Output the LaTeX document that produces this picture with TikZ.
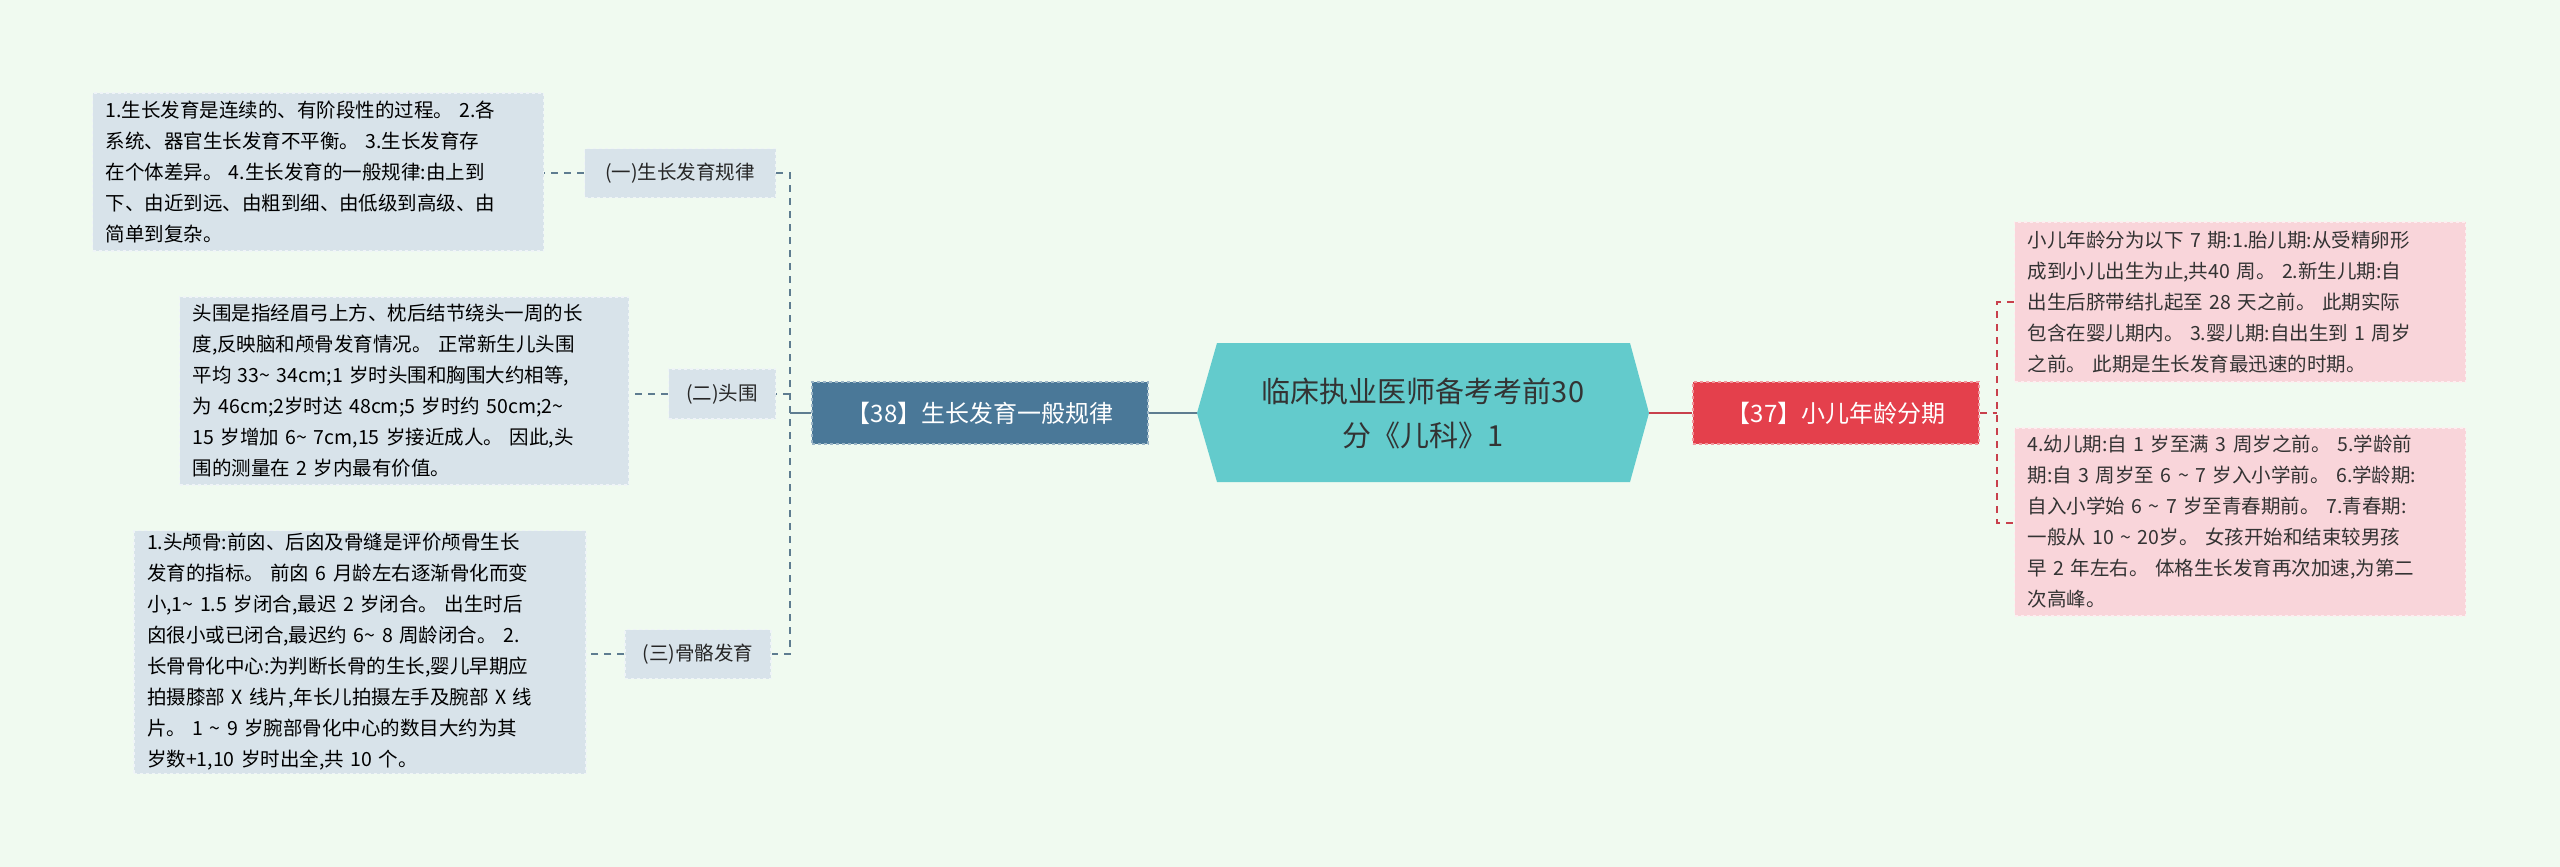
\documentclass[tikz,border=0pt]{standalone}
\usepackage{fontspec}
\setmainfont{Noto Sans CJK SC}
\begin{document}
\begin{tikzpicture}[x=1pt,y=-1pt,
  leafb/.style={fill=#1, draw=white!60!#1, dashed, line width=1.2pt, inner sep=0pt, align=left, font=\fontsize{19.5}{31}\selectfont},
  subb/.style={fill=leafblue, draw=white!60!leafblue, dashed, line width=1.2pt, inner sep=0pt, font=\fontsize{19.5}{24}\selectfont, text=black!85},
  lconn/.style={draw=lline, dashed, line width=1.6pt, dash pattern=on 7pt off 6pt},
  rconn/.style={draw=rline, dashed, line width=1.6pt, dash pattern=on 7pt off 6pt}]
\definecolor{bg}{HTML}{F0FAF0}
\definecolor{leafblue}{HTML}{D8E3EA}
\definecolor{leafpink}{HTML}{F9D5DA}
\definecolor{teal}{HTML}{63CBCC}
\definecolor{mainblue}{HTML}{4A7898}
\definecolor{mainred}{HTML}{E4404C}
\definecolor{lline}{HTML}{5E7C90}
\definecolor{rline}{HTML}{C8404C}
\useasboundingbox (0,0) rectangle (2560,867);
\fill[bg] (0,0) rectangle (2560,867);
% center
\coordinate (c1) at (1217,343); \coordinate (c2) at (1630,343); \coordinate (c3) at (1649,413);
\coordinate (c4) at (1630,482); \coordinate (c5) at (1217,482); \coordinate (c6) at (1197,413);
\fill[teal] (c1)--(c2)--(c3)--(c4)--(c5)--(c6)--cycle;
\node[align=center, font=\fontsize{29}{44}\selectfont, text=black!80] (center) at (1423,413) {临床执业医师备考考前30\\分《儿科》1};
\coordinate (cl) at (1197,413); \coordinate (cr) at (1649,413);
% main nodes
\node[fill=mainblue, draw=white!45!mainblue, dashed, line width=1.2pt, minimum width=336pt, minimum height=62pt, text=white, font=\fontsize{24}{28}\selectfont] (lm) at (980,413) {【38】生长发育一般规律};
\node[fill=mainred, draw=white!45!mainred, dashed, line width=1.2pt, minimum width=286pt, minimum height=62pt, text=white, font=\fontsize{24}{28}\selectfont] (rm) at (1836,413) {【37】小儿年龄分期};
\draw[lline, line width=1.8pt] (cl) -- (lm.east);
\draw[rline, line width=1.8pt] (cr) -- (rm.west);
% sub nodes
\node[subb, minimum width=191pt, minimum height=49pt] (s1) at (680,173) {(一)生长发育规律};
\node[subb, minimum width=107pt, minimum height=50pt] (s2) at (722,394) {(二)头围};
\node[subb, minimum width=146pt, minimum height=49pt] (s3) at (698,654) {(三)骨骼发育};
% leaves
\node[leafb=leafblue, minimum width=451pt, minimum height=158pt, text width=425pt] (l1) at (318,172) {1.生长发育是连续的、有阶段性的过程。 2.各\\系统、器官生长发育不平衡。 3.生长发育存\\在个体差异。 4.生长发育的一般规律:由上到\\下、由近到远、由粗到细、由低级到高级、由\\简单到复杂。};
\node[leafb=leafblue, minimum width=449pt, minimum height=188pt, text width=423pt] (l2) at (404,391) {头围是指经眉弓上方、枕后结节绕头一周的长\\度,反映脑和颅骨发育情况。 正常新生儿头围\\平均 33\textasciitilde{} 34cm;1 岁时头围和胸围大约相等,\\为 46cm;2岁时达 48cm;5 岁时约 50cm;2\textasciitilde{}\\15 岁增加 6\textasciitilde{} 7cm,15 岁接近成人。 因此,头\\围的测量在 2 岁内最有价值。};
\node[leafb=leafblue, minimum width=452pt, minimum height=243pt, text width=426pt] (l3) at (360,652) {1.头颅骨:前囟、后囟及骨缝是评价颅骨生长\\发育的指标。 前囟 6 月龄左右逐渐骨化而变\\小,1\textasciitilde{} 1.5 岁闭合,最迟 2 岁闭合。 出生时后\\囟很小或已闭合,最迟约 6\textasciitilde{} 8 周龄闭合。 2.\\长骨骨化中心:为判断长骨的生长,婴儿早期应\\拍摄膝部 X 线片,年长儿拍摄左手及腕部 X 线\\片。 1 \textasciitilde{} 9 岁腕部骨化中心的数目大约为其\\岁数+1,10 岁时出全,共 10 个。};
\node[leafb=leafpink, minimum width=451pt, minimum height=160pt, text width=425pt, text=black!80] (r1) at (2240,302) {小儿年龄分为以下 7 期:1.胎儿期:从受精卵形\\成到小儿出生为止,共40 周。 2.新生儿期:自\\出生后脐带结扎起至 28 天之前。 此期实际\\包含在婴儿期内。 3.婴儿期:自出生到 1 周岁\\之前。 此期是生长发育最迅速的时期。};
\node[leafb=leafpink, minimum width=451pt, minimum height=188pt, text width=425pt, text=black!80] (r2) at (2240,522) {4.幼儿期:自 1 岁至满 3 周岁之前。 5.学龄前\\期:自 3 周岁至 6 \textasciitilde{} 7 岁入小学前。 6.学龄期:\\自入小学始 6 \textasciitilde{} 7 岁至青春期前。 7.青春期:\\一般从 10 \textasciitilde{} 20岁。 女孩开始和结束较男孩\\早 2 年左右。 体格生长发育再次加速,为第二\\次高峰。};
% left trunk
\coordinate (lt1) at (790,173); \coordinate (lt3) at (790,654); \coordinate (lt2) at (790,394); \coordinate (ltm) at (790,413);
\draw[lconn] (s1.east) -- (lt1) -- (lt3) -- (s3.east);
\draw[lconn] (lt2) -- (s2.east);
\draw[lline, line width=1.6pt] (lm.west) -- (ltm);
\draw[lconn] (s1.west) -- (s1.west -| l1.east);
\draw[lconn] (s2.west) -- (s2.west -| l2.east);
\draw[lconn] (s3.west) -- (s3.west -| l3.east);
% right trunk
\coordinate (rt1) at (1997,302); \coordinate (rt2) at (1997,523); \coordinate (rtm) at (1997,413);
\draw[rconn] (r1.west) -- (rt1) -- (rt2) -- (r2.west |- rt2);
\draw[rconn] (rm.east) -- (rtm);
\end{tikzpicture}
\end{document}
